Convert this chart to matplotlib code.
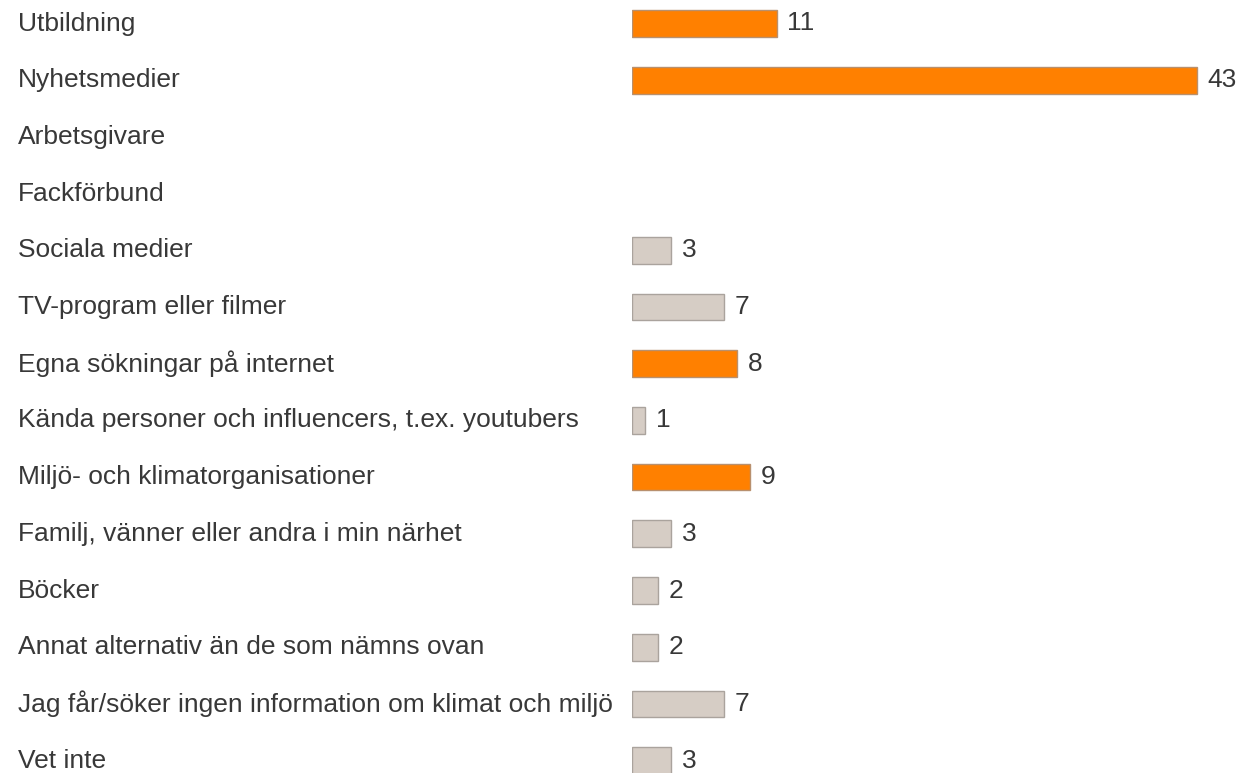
import numpy as np
import matplotlib
matplotlib.use("Agg")
import matplotlib.pyplot as plt
import matplotlib.transforms as mtransforms

# Answers and counts (None = no answers)
categories = [
    "Utbildning",
    "Nyhetsmedier",
    "Arbetsgivare",
    "Fackförbund",
    "Sociala medier",
    "TV-program eller filmer",
    "Egna sökningar på internet",
    "Kända personer och influencers, t.ex. youtubers",
    "Miljö- och klimatorganisationer",
    "Familj, vänner eller andra i min närhet",
    "Böcker",
    "Annat alternativ än de som nämns ovan",
    "Jag får/söker ingen information om klimat och miljö",
    "Vet inte",
]
values = [11, 43, None, None, 3, 7, 8, 1, 9, 3, 2, 2, 7, 3]
highlighted = ["Utbildning", "Nyhetsmedier", "Egna sökningar på internet",
               "Miljö- och klimatorganisationer"]

plt.rcParams['font.family'] = ['Liberation Sans', 'DejaVu Sans']

fig = plt.figure(figsize=(12.43, 7.73), dpi=100)
ax = fig.add_axes([632 / 1243, 0, 1 - 632 / 1243, 1])

# only rows that have answers get a bar
rows = [i for i, v in enumerate(values) if v is not None]
vals = [values[i] for i in rows]
colors = ['#ff8000' if categories[i] in highlighted else '#d6cdc5' for i in rows]
edges = ['#b8906e' if categories[i] in highlighted else '#aaa39d' for i in rows]

ax.barh(rows, vals, height=0.47, color=colors, edgecolor=edges, linewidth=1.0)

for i, v in zip(rows, vals):
    ax.annotate(str(v), (v, i), xytext=(7.5, 0), textcoords='offset points',
                va='center', ha='left', fontsize=19, color='#383838')

trans = mtransforms.blended_transform_factory(fig.transFigure, ax.transData)
for i, cat in enumerate(categories):
    ax.text(18 / 1243, i, cat, transform=trans, va='center', ha='left',
            fontsize=19, color='#383838')

# row pitch ~56.7 px, first row centred at ~23.5 px from the top
ax.set_xlim(0, (1243 - 632) / 13.15)
ax.set_ylim((773 - 23.5) / 56.7, -23.5 / 56.7)
ax.axis('off')

fig.savefig('out.png', dpi=100, facecolor='white')
